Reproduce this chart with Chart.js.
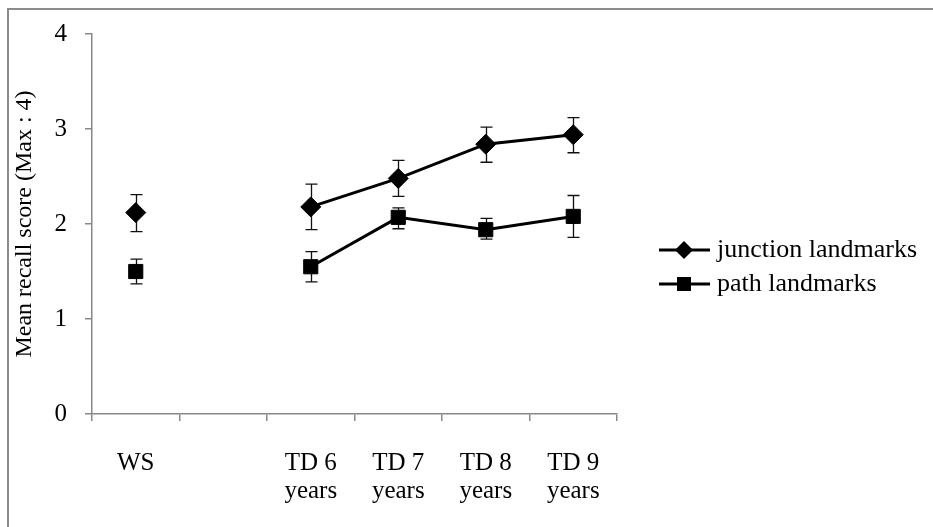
<!DOCTYPE html>
<html><head><meta charset="utf-8">
<script src="https://cdn.jsdelivr.net/npm/chart.js@4"></script>
<style>html,body{margin:0;padding:0;background:#fff}#wrap{width:933px;height:527px;position:relative}</style>
</head><body><div id="wrap"><canvas id="c" width="933" height="527"></canvas></div>
<script>
const categories = [['WS'], '', ['TD 6','years'], ['TD 7','years'], ['TD 8','years'], ['TD 9','years']];
const junctionMean = [2.12, null, 2.18, 2.48, 2.84, 2.94];
const junctionLow  = [1.92, null, 1.94, 2.29, 2.65, 2.75];
const junctionHigh = [2.31, null, 2.42, 2.67, 3.02, 3.12];
const pathMean = [1.50, null, 1.55, 2.07, 1.94, 2.08];
const pathLow  = [1.37, null, 1.39, 1.95, 1.84, 1.86];
const pathHigh = [1.63, null, 1.71, 2.17, 2.06, 2.30];
const seriesNames = ['junction landmarks', 'path landmarks'];
const yAxisTitle = 'Mean recall score (Max : 4)';
const yMin = 0, yMax = 4, yStep = 1;

const FAMILY = '"Liberation Serif", "Times New Roman", serif';
const FONT = {family: FAMILY, size: 25, lineHeight: 1.12};
const AXIS = '#888888';

const errorBars = {
  id: 'errorBars',
  beforeDatasetsDraw(chart) {
    const ctx = chart.ctx, x = chart.scales.x, y = chart.scales.y;
    const sets = [[junctionLow, junctionHigh], [pathLow, pathHigh]];
    ctx.save();
    ctx.strokeStyle = '#111';
    ctx.lineWidth = 1.3;
    sets.forEach(([lo, hi]) => {
      lo.forEach((l, i) => {
        if (l == null) return;
        const px = Math.round(x.getPixelForValue(i)) + 0.5;
        const y1 = y.getPixelForValue(l), y2 = y.getPixelForValue(hi[i]);
        ctx.beginPath();
        ctx.moveTo(px, y1); ctx.lineTo(px, y2);
        ctx.moveTo(px - 6, y1); ctx.lineTo(px + 6, y1);
        ctx.moveTo(px - 6, y2); ctx.lineTo(px + 6, y2);
        ctx.stroke();
      });
    });
    ctx.restore();
  }
};

const frame = {
  id: 'frame',
  beforeDraw(chart) {
    const ctx = chart.ctx;
    ctx.save();
    ctx.fillStyle = '#fff';
    ctx.fillRect(0, 0, chart.width, chart.height);
    ctx.strokeStyle = '#8c8c8c';
    ctx.lineWidth = 2;
    ctx.strokeRect(8, 9, 1000, 1000);
    ctx.restore();
  }
};

const legendPlugin = {
  id: 'customLegend',
  afterDraw(chart) {
    const ctx = chart.ctx;
    const rows = [{y: 250, shape: 'diamond'}, {y: 284, shape: 'square'}];
    ctx.save();
    rows.forEach((r, i) => {
      ctx.strokeStyle = '#000';
      ctx.lineWidth = 3;
      ctx.beginPath(); ctx.moveTo(659, r.y); ctx.lineTo(710, r.y); ctx.stroke();
      ctx.fillStyle = '#000';
      ctx.beginPath();
      const cx = 684;
      if (r.shape === 'diamond') {
        ctx.moveTo(cx, r.y - 9); ctx.lineTo(cx + 9, r.y); ctx.lineTo(cx, r.y + 9); ctx.lineTo(cx - 9, r.y);
        ctx.closePath();
      } else {
        ctx.rect(cx - 7, r.y - 7, 14, 14);
      }
      ctx.fill();
      ctx.font = '26px ' + FAMILY;
      ctx.textBaseline = 'middle';
      ctx.textAlign = 'left';
      ctx.fillText(seriesNames[i], 717, r.y);
    });
    ctx.restore();
  }
};

new Chart(document.getElementById('c'), {
  type: 'line',
  data: {
    labels: categories,
    datasets: [
      {label: seriesNames[0], data: junctionMean, borderColor: '#000', backgroundColor: '#000',
       borderWidth: 3, pointStyle: 'rectRot', pointRadius: 10, pointBorderWidth: 1,
       pointBackgroundColor: '#000', pointBorderColor: '#000', spanGaps: false, tension: 0},
      {label: seriesNames[1], data: pathMean, borderColor: '#000', backgroundColor: '#000',
       borderWidth: 3, pointStyle: 'rect', pointRadius: 10, pointBorderWidth: 1,
       pointBackgroundColor: '#000', pointBorderColor: '#000', spanGaps: false, tension: 0}
    ]
  },
  options: {
    responsive: false,
    animation: false,
    devicePixelRatio: 1,
    layout: {padding: {left: 0, top: 34, right: 316, bottom: 0}},
    plugins: {legend: {display: false}, tooltip: {enabled: false}},
    scales: {
      x: {
        type: 'category',
        offset: true,
        grid: {offset: true, drawOnChartArea: false, drawTicks: true, tickLength: 7, color: AXIS, lineWidth: 1.5},
        border: {color: AXIS, width: 1.5},
        ticks: {font: FONT, color: '#000', padding: 28, maxRotation: 0, minRotation: 0, autoSkip: false},
        afterFit(s) { s.height = 113; }
      },
      y: {
        min: yMin, max: yMax,
        grid: {drawOnChartArea: false, drawTicks: true, tickLength: 7, color: AXIS, lineWidth: 1.5},
        border: {color: AXIS, width: 1.5},
        ticks: {stepSize: yStep, font: FONT, color: '#000', padding: 18},
        title: {display: true, text: yAxisTitle, font: {family: FAMILY, size: 24, lineHeight: 1.2}, color: '#000', padding: {top: 10, bottom: 0}},
        afterFit(s) { s.width = 92; }
      }
    }
  },
  plugins: [frame, errorBars, legendPlugin]
});
</script>
</body></html>
